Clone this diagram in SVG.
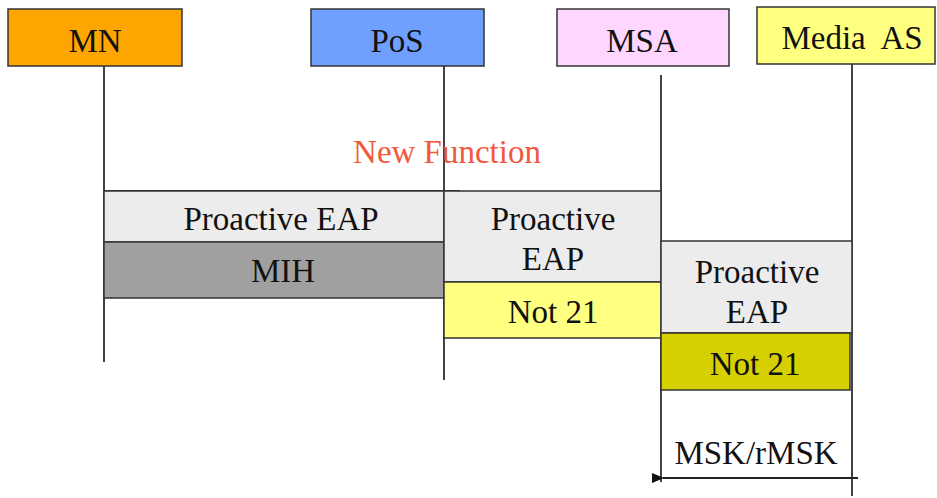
<svg xmlns="http://www.w3.org/2000/svg" width="937" height="498" viewBox="0 0 937 498">
<style>
text{font-family:"Liberation Serif","Times New Roman",serif;font-size:33px;fill:#111;text-anchor:middle}
.b{stroke:#333;stroke-width:1.5}
.l{stroke:#444;stroke-width:2;fill:none}
</style>
<defs>
<marker id="ah" markerWidth="12" markerHeight="10" refX="1" refY="5" orient="auto" markerUnits="userSpaceOnUse">
<path d="M12,0 L0,5 L12,10 z" fill="#111"/>
</marker>
</defs>
<g id="connectors">
<line class="l" x1="104" y1="66" x2="104" y2="362"/>
<line class="l" x1="444" y1="62" x2="444" y2="380"/>
<line class="l" x1="661" y1="75" x2="661" y2="482"/>
<line class="l" x1="852" y1="64" x2="852" y2="496"/>
<line x1="858" y1="478" x2="663" y2="478" stroke="#222" stroke-width="2" marker-end="url(#ah)"/>
</g>
<g id="MN"><rect class="b" x="8" y="9" width="174" height="57" fill="#ffa500"/><text x="95" y="52">MN</text></g>
<g id="PoS"><rect class="b" x="311" y="9" width="173" height="57" fill="#6fa0ff"/><text x="397" y="52">PoS</text></g>
<g id="MSA"><rect class="b" x="557" y="9" width="172" height="57" fill="#ffd6ff"/><text x="642" y="52">MSA</text></g>
<g id="MediaAS"><rect class="b" x="757" y="7" width="178" height="57" fill="#ffff80"/><text x="852" y="49" style="white-space:pre">Media  AS</text></g>
<g id="newfunc"><text x="447" y="163" style="fill:#f05a3c">New Function</text></g>
<g id="stack1">
<line x1="104" y1="191" x2="460" y2="191" stroke="#333" stroke-width="2"/>
<rect class="b" x="104" y="191" width="340" height="51" fill="#ececec"/>
<text x="281" y="230">Proactive EAP</text>
<rect class="b" x="104" y="242" width="340" height="56" fill="#a0a0a0"/>
<text x="283" y="282">MIH</text>
</g>
<g id="stack2">
<rect class="b" x="444" y="191" width="217" height="91" fill="#ececec"/>
<text x="553" y="230">Proactive</text>
<text x="553" y="270">EAP</text>
<rect class="b" x="444" y="282" width="217" height="56" fill="#ffff80"/>
<text x="553" y="323">Not 21</text>
</g>
<g id="stack3">
<rect class="b" x="661" y="241" width="191" height="92" fill="#ececec"/>
<text x="757" y="283">Proactive</text>
<text x="757" y="323">EAP</text>
<rect class="b" x="661" y="333" width="189" height="57" fill="#d6d000"/>
<text x="755" y="375">Not 21</text>
</g>
<g id="msk"><text x="756" y="464">MSK/rMSK</text></g>
</svg>
